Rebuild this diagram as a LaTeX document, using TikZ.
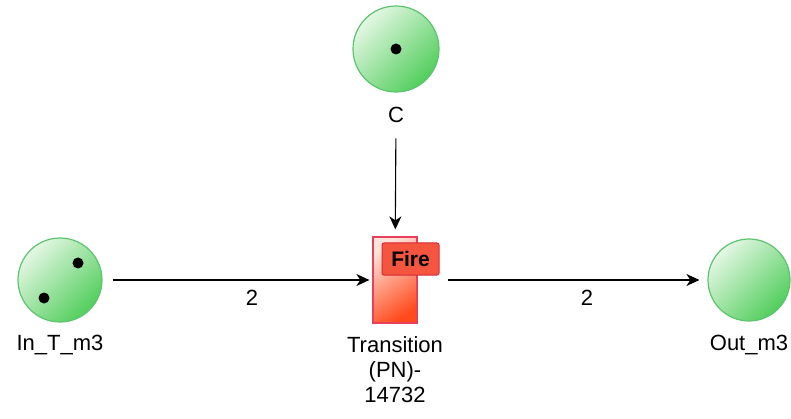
\documentclass[tikz,border=0pt]{standalone}
\usepackage{fontspec}
\setmainfont{Liberation Sans}
\usetikzlibrary{arrows.meta}
\definecolor{placeborder}{HTML}{5CC46E}
\definecolor{placelight}{HTML}{E4F7E4}
\definecolor{placedark}{HTML}{52CE5C}
\definecolor{trborder}{HTML}{E8405A}
\definecolor{trlight}{HTML}{FFE4DC}
\definecolor{trdark}{HTML}{FF4A1C}
\definecolor{firefill}{HTML}{F4553F}
\definecolor{fireborder}{HTML}{D9283C}
\begin{document}
\begin{tikzpicture}[x=1pt,y=-1pt,
  place/.style={circle,draw=placeborder,line width=1.2pt,minimum size=#1,inner sep=0pt,
    shading=axis,top color=placelight,bottom color=placedark,shading angle=45},
  token/.style={circle,fill=black,minimum size=11pt,inner sep=0pt},
  lbl/.style={font=\fontsize{22}{25}\selectfont,text=black,align=center},
  arr/.style={-{Stealth[length=13pt,width=12pt,inset=4pt]},line width=1.1pt},
  trans/.style={rectangle,draw=trborder,line width=1.2pt,minimum width=44pt,minimum height=86pt,inner sep=0pt,
    shading=axis,top color=trlight,bottom color=trdark,shading angle=35},
  firebox/.style={rectangle,rounded corners=2pt,draw=fireborder,line width=1pt,fill=firefill,
    minimum width=57pt,minimum height=32pt,inner sep=0pt,font=\fontsize{21}{22}\selectfont\bfseries}
]
\useasboundingbox (0,0) rectangle (791,419);
% places
\node[place=86pt] (C) at (396,49) {};
\node[token] (tc) at (396,49) {};
\node[lbl] (Cl) at (396,115) {C};
\node[place=84pt] (In) at (60,280) {};
\node[token] (ti1) at (78,263) {};
\node[token] (ti2) at (44,298) {};
\node[lbl] (Inl) at (60,345) {In\_T\_m3};
\node[place=82pt] (Out) at (749,280) {};
\node[lbl] (Outl) at (749,345) {Out\_m3};
% transition
\node[trans] (T) at (395,280) {};
\node[firebox] (F) at (410.5,259) {Fire};
\node[lbl] (Tl) at (395,370) {Transition\\(PN)-\\14732};
% arcs
\draw[arr,shorten <=10pt,shorten >=3pt] (In) -- (T);
\draw[arr,shorten <=30pt,shorten >=8pt] (T) -- (Out);
\draw[arr,shorten <=12pt,shorten >=7pt] (Cl) -- (T);
\node[lbl] (w1) at (252,298) {2};
\node[lbl] (w2) at (587,298) {2};
\end{tikzpicture}
\end{document}
